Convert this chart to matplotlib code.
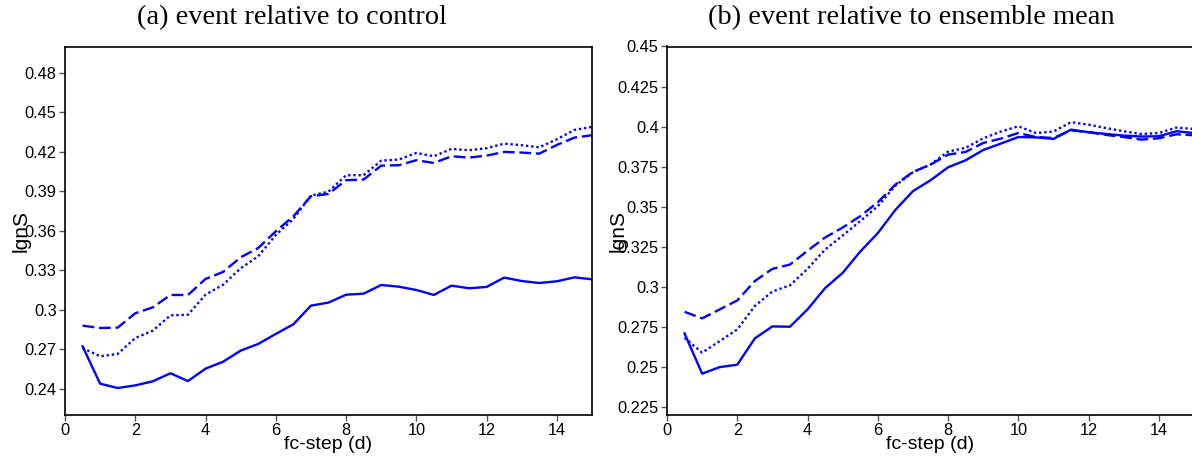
import matplotlib
matplotlib.use("Agg")
import matplotlib.pyplot as plt
import numpy as np

# forecast step in days
steps = np.arange(1, 31) * 0.5

# (a) event relative to control
ctrl_solid = [0.2722, 0.2438, 0.2405, 0.2425, 0.2456, 0.2517, 0.2458, 0.2552, 0.2605, 0.2689,
              0.2740, 0.2816, 0.2889, 0.3031, 0.3054, 0.3114, 0.3122, 0.3188, 0.3175, 0.3150,
              0.3112, 0.3183, 0.3163, 0.3173, 0.3244, 0.3218, 0.3203, 0.3216, 0.3246, 0.3231]
ctrl_dashed = [0.2879, 0.2861, 0.2864, 0.2973, 0.3018, 0.3112, 0.3112, 0.3234, 0.3287, 0.3398,
               0.3469, 0.3596, 0.3710, 0.3862, 0.3880, 0.3984, 0.3989, 0.4095, 0.4098, 0.4136,
               0.4115, 0.4166, 0.4156, 0.4171, 0.4199, 0.4194, 0.4186, 0.4252, 0.4308, 0.4326]
ctrl_dotted = [0.2709, 0.2646, 0.2664, 0.2785, 0.2841, 0.2957, 0.2962, 0.3114, 0.3190, 0.3315,
               0.3406, 0.3568, 0.3690, 0.3867, 0.3897, 0.4022, 0.4022, 0.4133, 0.4141, 0.4191,
               0.4166, 0.4222, 0.4212, 0.4227, 0.4262, 0.4250, 0.4234, 0.4295, 0.4366, 0.4389]

# (b) event relative to ensemble mean
ens_solid = [0.2709, 0.2458, 0.2499, 0.2514, 0.2678, 0.2753, 0.2751, 0.2859, 0.2992, 0.3087,
             0.3220, 0.3335, 0.3480, 0.3597, 0.3665, 0.3746, 0.3790, 0.3854, 0.3894, 0.3935,
             0.3933, 0.3923, 0.3981, 0.3965, 0.3954, 0.3944, 0.3938, 0.3940, 0.3971, 0.3960]
ens_dashed = [0.2844, 0.2803, 0.2859, 0.2915, 0.3036, 0.3112, 0.3139, 0.3225, 0.3308, 0.3370,
              0.3441, 0.3528, 0.3638, 0.3717, 0.3763, 0.3825, 0.3842, 0.3898, 0.3925, 0.3960,
              0.3935, 0.3929, 0.3977, 0.3965, 0.3948, 0.3935, 0.3919, 0.3927, 0.3952, 0.3946]
ens_dotted = [0.2682, 0.2589, 0.2661, 0.2734, 0.2880, 0.2971, 0.3009, 0.3112, 0.3233, 0.3320,
              0.3410, 0.3503, 0.3632, 0.3715, 0.3763, 0.3844, 0.3867, 0.3927, 0.3969, 0.4002,
              0.3960, 0.3969, 0.4028, 0.4012, 0.3991, 0.3971, 0.3954, 0.3960, 0.3994, 0.3985]

yticks_a = [0.24, 0.27, 0.30, 0.33, 0.36, 0.39, 0.42, 0.45, 0.48]
yticks_b = [0.225, 0.25, 0.275, 0.30, 0.325, 0.35, 0.375, 0.40, 0.425, 0.45]
xticks = [0, 2, 4, 6, 8, 10, 12, 14]

titles = ["(a) event relative to control", "(b) event relative to ensemble mean"]

plt.rcParams["font.family"] = ["Liberation Sans", "DejaVu Sans"]

fig = plt.figure(figsize=(11.92, 4.63), dpi=100)
W, H = 1192.0, 463.0
ax_a = fig.add_axes([65 / W, 1 - 415 / H, 527 / W, 368.5 / H])
ax_b = fig.add_axes([667 / W, 1 - 415 / H, 527 / W, 368.5 / H])

panels = [
    (ax_a, ctrl_solid, ctrl_dashed, ctrl_dotted, yticks_a, (0.22, 0.50), -0.0645),
    (ax_b, ens_solid, ens_dashed, ens_dotted, yticks_b, (0.22, 0.45), -0.0745),
]

for ax, s, d, o, yt, yl, lx in panels:
    ax.plot(steps, s, color="#0000ff", lw=1.7, ls="-")
    ax.plot(steps, d, color="#0000ff", lw=1.7, ls=(0, (5, 2)))
    ax.plot(steps, o, color="#0000ff", lw=1.7, ls=(0, (1, 1.2)))
    ax.set_xlim(0, 15)
    ax.set_ylim(*yl)
    ax.set_xticks(xticks)
    ax.set_yticks(yt)
    ax.set_yticklabels(["%g" % v for v in yt])
    ax.tick_params(direction="out", length=4, width=1, color="#555555",
                   labelsize=11.8, pad=2)
    for sp in ax.spines.values():
        sp.set_linewidth(1.2)
    ax.set_xlabel("fc-step (d)", fontsize=14, labelpad=-1.5)
    ax.set_ylabel("lgnS", fontsize=15)
    ax.yaxis.set_label_coords(lx, 0.5)

fig.text(292 / W, 1 - 18 / H, titles[0], ha="center", va="center",
         family=["Liberation Serif", "DejaVu Serif"], fontsize=20.5)
fig.text(911 / W, 1 - 18 / H, titles[1], ha="center", va="center",
         family=["Liberation Serif", "DejaVu Serif"], fontsize=20.5)

fig.savefig("out.png", dpi=100)
